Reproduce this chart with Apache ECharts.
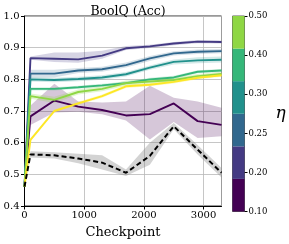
<!DOCTYPE html>
<html><head><meta charset="utf-8">
<script src="https://cdn.jsdelivr.net/npm/echarts@6/dist/echarts.min.js"></script>
<style>html,body{margin:0;padding:0;background:#fff}#c{width:289px;height:244px}</style>
</head><body><div id="c"></div>
<script>
const checkpoints = [0,100,500,900,1300,1700,2100,2500,2900,3300];

const eta010   = [0.461,0.683,0.733,0.714,0.703,0.686,0.690,0.724,0.668,0.656];
const eta010Lo = [0.461,0.656,0.695,0.698,0.690,0.670,0.610,0.665,0.615,0.620];
const eta010Hi = [0.461,0.717,0.786,0.730,0.727,0.730,0.780,0.742,0.730,0.710];

const eta020   = [0.461,0.867,0.865,0.863,0.875,0.898,0.904,0.913,0.919,0.918];
const eta020Lo = [0.461,0.862,0.855,0.852,0.865,0.893,0.899,0.908,0.914,0.913];
const eta020Hi = [0.461,0.872,0.885,0.885,0.890,0.905,0.909,0.918,0.924,0.923];

const eta025   = [0.461,0.818,0.818,0.828,0.832,0.845,0.866,0.882,0.887,0.889];
const eta025Lo = [0.461,0.806,0.806,0.820,0.824,0.837,0.858,0.875,0.880,0.882];
const eta025Hi = [0.461,0.830,0.830,0.836,0.840,0.853,0.874,0.889,0.894,0.896];

const eta030   = [0.461,0.800,0.798,0.801,0.806,0.816,0.837,0.855,0.860,0.862];
const eta030Lo = [0.461,0.793,0.791,0.794,0.799,0.809,0.830,0.847,0.851,0.853];
const eta030Hi = [0.461,0.807,0.805,0.808,0.813,0.823,0.844,0.863,0.870,0.872];

const eta040   = [0.461,0.770,0.770,0.775,0.781,0.788,0.800,0.806,0.824,0.828];
const eta040Lo = [0.461,0.765,0.765,0.770,0.776,0.783,0.795,0.801,0.819,0.823];
const eta040Hi = [0.461,0.775,0.775,0.780,0.786,0.793,0.805,0.811,0.829,0.833];

const eta050   = [0.461,0.747,0.735,0.760,0.770,0.788,0.793,0.798,0.810,0.817];
const eta050Lo = [0.461,0.739,0.725,0.752,0.762,0.780,0.786,0.791,0.803,0.810];
const eta050Hi = [0.461,0.755,0.745,0.768,0.778,0.796,0.800,0.805,0.817,0.824];

const etaYellow   = [0.461,0.609,0.700,0.724,0.747,0.778,0.783,0.792,0.805,0.813];
const etaYellowLo = [0.461,0.604,0.695,0.719,0.742,0.773,0.778,0.787,0.800,0.808];
const etaYellowHi = [0.461,0.614,0.705,0.729,0.752,0.783,0.788,0.797,0.810,0.818];

const baseline   = [0.461,0.563,0.560,0.550,0.537,0.505,0.558,0.652,0.578,0.505];
const baselineLo = [0.461,0.553,0.550,0.535,0.515,0.495,0.530,0.642,0.563,0.490];
const baselineHi = [0.461,0.573,0.570,0.565,0.560,0.515,0.600,0.662,0.593,0.520];

const colorbarLabels = ['0.10','0.20','0.25','0.30','0.40','0.50'];
const colorbarColors = ['#440154','#443a83','#31688e','#21918c','#35b779','#8fd744'];

const yTicks = [0.4,0.5,0.6,0.7,0.8,0.9,1.0];
const xTicks = [0,1000,2000,3000];

const FONT = 'DejaVu Serif';

const lines = [
  {v:eta010, lo:eta010Lo, hi:eta010Hi, color:'#440154', bandOp:0.22},
  {v:eta020, lo:eta020Lo, hi:eta020Hi, color:'#443a83', bandOp:0.22},
  {v:eta025, lo:eta025Lo, hi:eta025Hi, color:'#31688e', bandOp:0.2},
  {v:eta030, lo:eta030Lo, hi:eta030Hi, color:'#21918c', bandOp:0.2},
  {v:eta040, lo:eta040Lo, hi:eta040Hi, color:'#35b779', bandOp:0.2},
  {v:eta050, lo:eta050Lo, hi:eta050Hi, color:'#8fd744', bandOp:0.25},
  {v:etaYellow, lo:etaYellowLo, hi:etaYellowHi, color:'#fde725', bandOp:0.25},
  {v:baseline, lo:baselineLo, hi:baselineHi, color:'#000000', bandColor:'#808080', bandOp:0.35, dashed:true}
];

const series = [];
lines.forEach((l) => {
  series.push({
    type:'custom', xAxisIndex:0, yAxisIndex:0, silent:true, z:1,
    data: checkpoints.map((c,k)=>[c,l.lo[k],l.hi[k]]),
    renderItem: (params, api) => {
      if (params.dataIndex !== 0) return null;
      const pts = [];
      for (let k = 0; k < checkpoints.length; k++) pts.push(api.coord([checkpoints[k], l.hi[k]]));
      for (let k = checkpoints.length - 1; k >= 0; k--) pts.push(api.coord([checkpoints[k], l.lo[k]]));
      return {type:'polygon', shape:{points:pts},
        style:{fill:l.bandColor||l.color, opacity:l.bandOp, stroke:'none'}};
    }
  });
});
lines.forEach((l) => {
  series.push({
    type:'line', xAxisIndex:0, yAxisIndex:0, symbol:'none', z:5,
    lineStyle:{color:l.color, width:l.dashed?2:1.9, type:l.dashed?[5,3]:'solid'},
    data: checkpoints.map((c,k)=>[c,l.v[k]])
  });
});
colorbarColors.forEach((col) => {
  series.push({
    type:'bar', xAxisIndex:1, yAxisIndex:1, stack:'cb', barWidth:'100%', silent:true,
    itemStyle:{color:col}, data:[1]
  });
});

const chart = echarts.init(document.getElementById('c'), null, {renderer:'canvas'});
chart.setOption({
  animation:false,
  backgroundColor:'#fff',
  title:{text:'BoolQ (Acc)', left:123, top:0, textAlign:'center',
    textStyle:{fontFamily:FONT, fontSize:12.5, fontWeight:'normal', color:'#000'}},
  grid:[
    {left:24.5, top:16, width:197, height:195.5, show:true, borderColor:'#333', borderWidth:1},
    {left:232.5, top:16, width:12, height:195.5, show:true, borderColor:'#333', borderWidth:0.8}
  ],
  xAxis:[
    {type:'value', gridIndex:0, min:0, max:3300, interval:1000,
      name:'Checkpoint', nameLocation:'middle', nameGap:20,
      nameTextStyle:{fontFamily:FONT, fontSize:13, color:'#000'},
      axisLine:{show:true, lineStyle:{color:'#000', width:1}},
      axisTick:{show:true, length:3.5, lineStyle:{color:'#000'}},
      axisLabel:{fontFamily:FONT, fontSize:10, color:'#000', margin:4, showMaxLabel:false,
        formatter:(v)=> xTicks.includes(v) ? String(v) : ''},
      splitLine:{show:true, lineStyle:{color:'#b8b8b8', width:0.8}}},
    {type:'category', gridIndex:1, data:['c'], show:false}
  ],
  yAxis:[
    {type:'value', gridIndex:0, min:0.4, max:1.0, interval:0.1,
      axisLine:{show:true, lineStyle:{color:'#000', width:1}},
      axisTick:{show:true, length:3.5, lineStyle:{color:'#000'}},
      axisLabel:{fontFamily:FONT, fontSize:10, color:'#000', margin:5,
        formatter:(v)=> yTicks.some(t=>Math.abs(t-v)<1e-6) ? v.toFixed(1) : ''},
      splitLine:{show:true, lineStyle:{color:'#b8b8b8', width:0.8}}},
    {type:'value', gridIndex:1, min:0, max:6, show:false},
    {type:'category', gridIndex:1, position:'right', boundaryGap:false, data:colorbarLabels,
      name:'η', nameLocation:'middle', nameRotate:0, nameGap:31,
      nameTextStyle:{fontFamily:FONT, fontSize:17, fontStyle:'italic', color:'#000'},
      axisLine:{show:false},
      axisTick:{show:true, length:3, inside:false, lineStyle:{color:'#000'}},
      axisLabel:{fontFamily:FONT, fontSize:8.5, color:'#000', margin:4},
      splitLine:{show:false}}
  ],
  series: series
});
</script>
</body></html>
